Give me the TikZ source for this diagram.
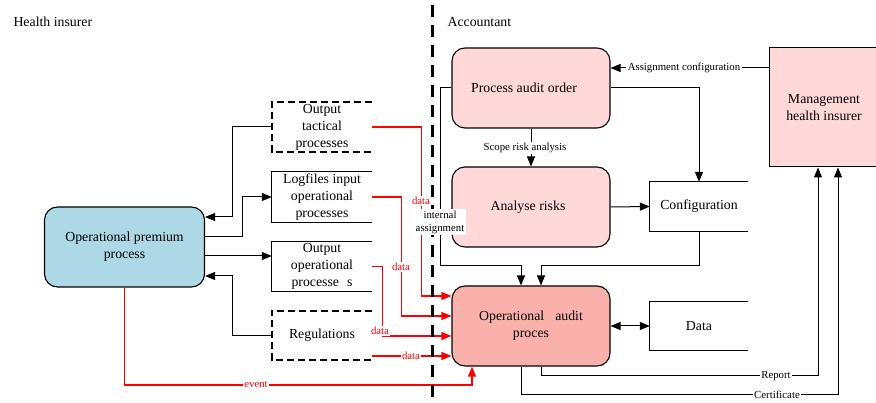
\documentclass[tikz,border=0pt]{standalone}
\usepackage{fontspec}
\setmainfont{Liberation Serif}
\usetikzlibrary{arrows.meta}

\definecolor{procpink}{RGB}{255,217,217}
\definecolor{auditpink}{RGB}{250,176,171}
\definecolor{premblue}{RGB}{173,216,230}
\definecolor{datared}{RGB}{255,0,0}

\tikzset{
  bigtext/.style={font=\fontsize{13.8}{17}\selectfont, align=center},
  smalltext/.style={font=\fontsize{10.8}{13}\selectfont, align=center},
  process/.style={bigtext, draw, line width=1.1pt, rounded corners=13pt,
    minimum width=158pt, minimum height=80pt, inner sep=0pt},
  store/.style={bigtext, minimum width=100pt, minimum height=49pt, inner sep=0pt},
  storeline/.style={line width=1pt},
  dashedstore/.style={line width=1.8pt, dash pattern=on 7pt off 4pt},
  arr/.style={line width=1pt, -{Triangle[length=10pt,width=8pt]}},
  darr/.style={line width=1pt, {Triangle[length=10pt,width=8pt]}-{Triangle[length=10pt,width=8pt]}},
  rarr/.style={datared, line width=1.1pt, -{Triangle[length=10pt,width=8pt]}},
  lab/.style={smalltext, fill=white, inner sep=1.5pt},
  rlab/.style={smalltext, fill=white, text=datared, inner sep=1.5pt},
  boundary/.style={line width=3pt, dash pattern=on 12pt off 8pt},
}

\begin{document}
\begin{tikzpicture}[x=1pt,y=-1pt]
\useasboundingbox (0,0) rectangle (876,403);

% swimlane titles
\node[bigtext, anchor=west] (laneA) at (10,22) {Health insurer};
\node[bigtext, anchor=west] (laneB) at (444,22) {Accountant};

% health insurer side
\node[process, fill=premblue, minimum width=160pt] (prem) at (124.5,247) {Operational premium\\process};

\node[store] (tact)  at (322,127) {Output\\tactical\\processes};
\node[store, minimum height=50pt] (logf)  at (322,197) {Logfiles input\\operational\\processes};
\node[store] (outop) at (322,266.5) {Output\\operational\\processe\hspace{8pt}s};
\node[store] (regs)  at (322,335.5) {Regulations};

\draw[dashedstore] (tact.north east) -- (tact.north west) -- (tact.south west) -- (tact.south east);
\draw[storeline] (logf.north east) -- (logf.north west) -- (logf.south west) -- (logf.south east);
\draw[storeline] (outop.north east) -- (outop.north west) -- (outop.south west) -- (outop.south east);
\draw[dashedstore] (regs.north east) -- (regs.north west) -- (regs.south west) -- (regs.south east);

% accountant side
\node[process, fill=procpink] (pao) at (531,88) {\hspace*{-14pt}Process audit order};
\node[process, fill=procpink] (ana) at (531,207) {\hspace*{-6pt}Analyse risks};
\node[process, fill=auditpink] (aud) at (531,326) {Operational\hspace{11pt}audit\\proces};

\node[store, minimum width=98pt] (conf) at (699,206.5) {Configuration};
\node[store, minimum width=98pt] (data) at (699,326) {Data};
\draw[storeline] (conf.north east) -- (conf.north west) -- (conf.south west) -- (conf.south east);
\draw[storeline] (data.north east) -- (data.north west) -- (data.south west) -- (data.south east);

\node[bigtext, draw, line width=1pt, fill=procpink, minimum width=110pt,
  minimum height=119pt, inner sep=0pt] (mgmt) at (824,107.5) {Management\\health insurer};

% black flows, health insurer side
\draw[arr] (tact.west) -- ++(-39,0) |- (prem.east |- 0,217);
\draw[arr] (prem.east |- 0,237) -- ++(37.5,0) |- (logf.west);
\draw[arr] (prem.east |- 0,256) -- (outop.west |- 0,256);
\draw[arr] (regs.west) -- ++(-39,0) |- (prem.east |- 0,276);

% data flows into the audit
\draw[rarr] (tact.east) -- ++(49,0) |- (aud.west |- 0,296);
\draw[rarr] (logf.east) -- ++(29,0) |- (aud.west |- 0,316);
\draw[rarr] (outop.east) -- ++(10,0) |- (aud.west |- 0,336);
\draw[rarr] (regs.east |- 0,356) -- (aud.west |- 0,356);
\draw[rarr] (prem.south) |- (472,385) -- (aud.south -| 472,0);

% black flows, accountant side
\draw[arr] (pao.west) -- ++(-11,0) |- (521,266) -- (aud.north -| 521,0);
\draw[arr] (conf.south) |- (541,266) -- (aud.north -| 541,0);
\draw[arr] (pao.east) -| (conf.north);
\draw[arr] (pao.south) -- (ana.north);
\draw[arr] (ana.east) -- (conf.west);
\draw[arr] (mgmt.west |- 0,68) -- (pao.east |- 0,68);
\draw[darr] (aud.east) -- (data.west);
\draw[arr] (aud.south -| 541,0) |- (818,376) -- (mgmt.south -| 818,0);
\draw[arr] (aud.south -| 521,0) |- (838,395) -- (mgmt.south -| 838,0);

% lane boundary
\draw[boundary] (432,5) -- (432,403);

% flow labels
\node[rlab] (d1) at (421,201) {data};
\node[rlab] (d2) at (401,267) {data};
\node[rlab] (d3) at (380,331) {data};
\node[rlab] (d4) at (411,356) {data};
\node[rlab] (ev) at (256,385) {event};
\node[lab, inner sep=2pt] (ia) at (440,222) {internal\\assignment};
\node[lab] (sra) at (525,148) {Scope risk analysis};
\node[lab] (ac) at (684,68) {Assignment configuration};
\node[lab] (rep) at (776,376) {Report};
\node[lab] (cert) at (777,395) {Certificate};
\end{tikzpicture}
\end{document}
